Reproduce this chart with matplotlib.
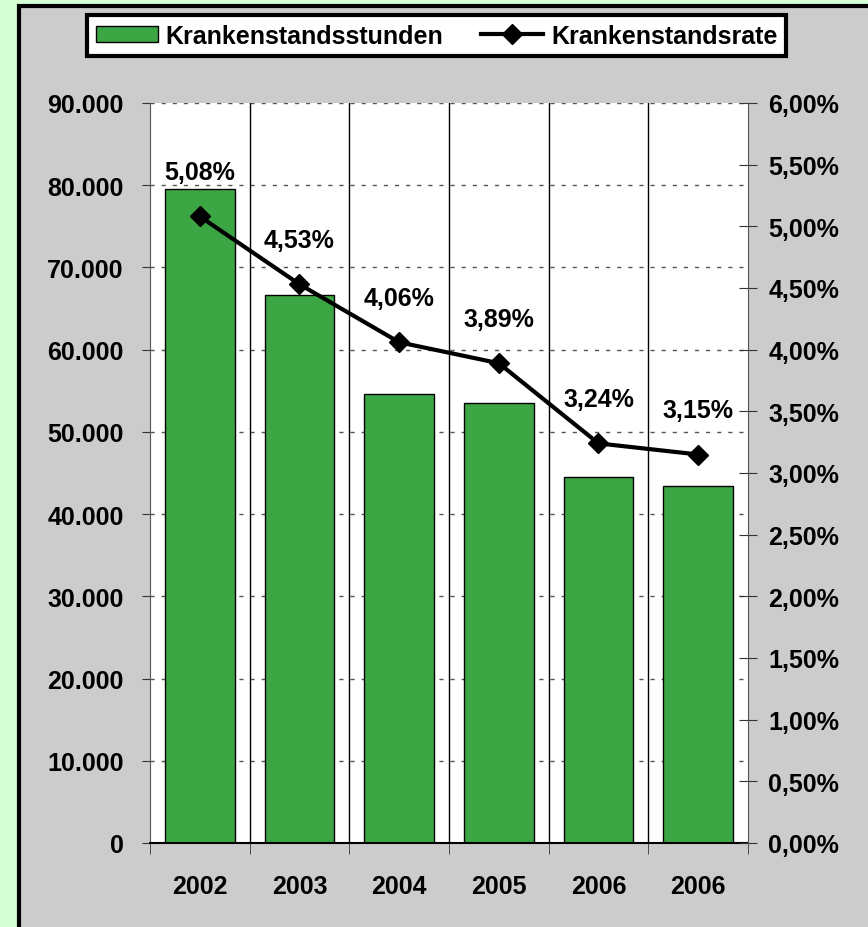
import matplotlib
matplotlib.use("Agg")
import matplotlib.pyplot as plt
from matplotlib.patches import Rectangle
from matplotlib.ticker import FuncFormatter, MultipleLocator, FixedLocator

years = ["2002", "2003", "2004", "2005", "2006", "2006"]
stunden = [79600, 66600, 54600, 53500, 44500, 43400]
rate = [5.08, 4.53, 4.06, 3.89, 3.24, 3.15]

plt.rcParams["font.family"] = ["Liberation Sans", "DejaVu Sans"]
plt.rcParams["font.weight"] = "bold"
plt.rcParams["font.size"] = 18

bar_green = "#3CA645"
panel_gray = "#CCCCCC"

fig = plt.figure(figsize=(8.68, 9.28), dpi=100, facecolor="#D4FFD4")

# grey chart panel with black border
fig.patches.append(Rectangle((19 / 868, -0.01), 1.0, 1 - 7 / 928 + 0.01,
                             transform=fig.transFigure, facecolor=panel_gray,
                             edgecolor="black", linewidth=3, zorder=-5))

ax = fig.add_axes([150 / 868, 1 - 844 / 928, 598 / 868, 740 / 928])
ax.set_facecolor("white")
ax.set_axisbelow(True)

x = list(range(len(years)))
bars = ax.bar(x, stunden, width=0.7, color=bar_green, edgecolor="black",
              linewidth=1, label="Krankenstandsstunden", zorder=2)

ax.set_xlim(-0.5, len(years) - 0.5)
ax.set_ylim(0, 90000)
ax.yaxis.set_major_locator(MultipleLocator(10000))
ax.yaxis.set_major_formatter(FuncFormatter(lambda v, p: f"{int(v):,}".replace(",", ".")))
ax.grid(axis="y", linestyle=(0, (3, 5)), color="#555555", linewidth=1)

for i in range(len(years) - 1):
    ax.axvline(i + 0.5, color="black", linewidth=1, zorder=1)

ax.set_xticks(x)
ax.set_xticklabels(years)
ax.xaxis.set_minor_locator(FixedLocator([i - 0.5 for i in range(len(years) + 1)]))
ax.tick_params(axis="x", which="major", length=0, pad=22)
ax.tick_params(axis="x", which="minor", length=8, direction="out", color="#333333")
ax.tick_params(axis="y", length=6, direction="out", pad=13, color="#333333")

for side in ["top", "right"]:
    ax.spines[side].set_visible(False)
ax.spines["left"].set_color("#555555")
ax.spines["bottom"].set_color("black")
ax.spines["bottom"].set_linewidth(1.5)

ax2 = ax.twinx()
ax2.set_ylim(0, 6)
ax2.yaxis.set_major_locator(MultipleLocator(0.5))
ax2.yaxis.set_major_formatter(FuncFormatter(lambda v, p: f"{v:.2f}%".replace(".", ",")))
ax2.tick_params(axis="y", length=13, direction="inout", pad=8, color="#333333")
for side in ["top", "left", "bottom"]:
    ax2.spines[side].set_visible(False)
ax2.spines["right"].set_color("#555555")

line, = ax2.plot(x, rate, color="black", linewidth=3, marker="D", markersize=10,
                 label="Krankenstandsrate", zorder=3)

for xi, r in zip(x, rate):
    ax2.annotate(f"{r:.2f}%".replace(".", ","), (xi, r), xytext=(0, 32),
                 textcoords="offset points", ha="center", va="center")

leg = fig.legend([bars, line], ["Krankenstandsstunden", "Krankenstandsrate"],
                 loc="center", bbox_to_anchor=(436.5 / 868, 1 - 36.5 / 928),
                 ncol=2, frameon=True, fancybox=False, handlelength=2.5,
                 handletextpad=0.3, columnspacing=1.5, borderpad=0.35,
                 handleheight=0.6)
leg.get_frame().set_edgecolor("black")
leg.get_frame().set_linewidth(3)
leg.get_frame().set_facecolor("white")
leg.get_frame().set_alpha(1)

fig.savefig("out.png", dpi=100, facecolor=fig.get_facecolor())
